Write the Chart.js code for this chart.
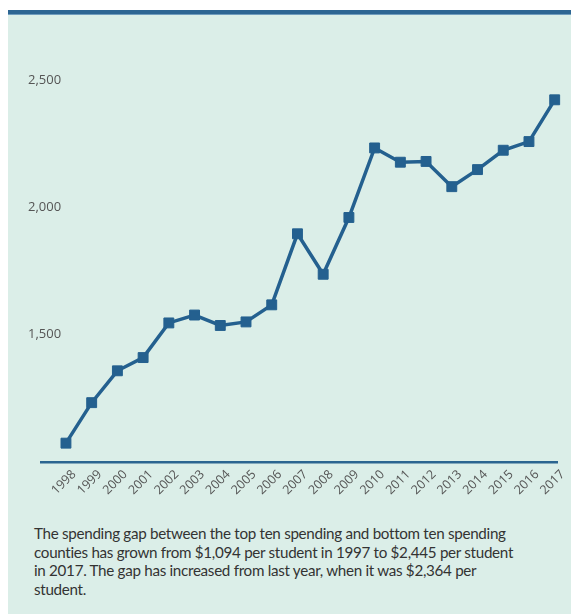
<!DOCTYPE html>
<html lang="en">
<head>
  <meta charset="UTF-8">
  <title>Spending gap per student</title>
  <script src="https://cdn.jsdelivr.net/npm/chart.js"></script>
  <style>
    html, body {
      margin: 0;
      padding: 0;
      width: 571px;
      height: 614px;
      background: #ffffff;
      overflow: hidden;
    }
    .panel {
      position: absolute;
      left: 8px;
      top: 10px;
      right: 0;
      bottom: 0;
      background: #dbeee8;
      border-top: 4px solid #2d6693;
      box-shadow: inset 0 1px 0 #6f9cbd;
    }
    #gapChart {
      position: absolute;
      left: 0;
      top: 0;
    }
    .caption {
      position: absolute;
      left: 34px;
      top: 524px;
      font-family: 'Lato', sans-serif;
      font-size: 15.2px;
      letter-spacing: -0.3px;
      line-height: 18.5px;
      color: #333;
      white-space: nowrap;
    }
  </style>
</head>
<body>
  <div class="panel"></div>
  <canvas id="gapChart" width="571" height="510"></canvas>
  <div class="caption">
    The spending gap between the top ten spending and bottom ten spending<br>
    counties has grown from $1,094 per student in 1997 to $2,445 per student<br>
    in 2017. The gap has increased from last year, when it was $2,364 per<br>
    student.
  </div>

  <script>
    const years = [1998, 1999, 2000, 2001, 2002, 2003, 2004, 2005, 2006, 2007,
                   2008, 2009, 2010, 2011, 2012, 2013, 2014, 2015, 2016, 2017];
    const gapValues = [1074, 1233, 1358, 1410, 1546, 1577, 1536, 1550, 1617, 1896,
                       1737, 1960, 2233, 2177, 2180, 2081, 2148, 2224, 2258, 2422];
    const yTickValues = [1500, 2000, 2500];

    const lineBlue = '#24608f';

    const ctx = document.getElementById('gapChart').getContext('2d');
    new Chart(ctx, {
      type: 'line',
      data: {
        datasets: [{
          data: years.map((y, i) => ({ x: y, y: gapValues[i] })),
          borderColor: lineBlue,
          backgroundColor: lineBlue,
          borderWidth: 3.5,
          pointStyle: 'rect',
          pointRadius: 7,
          pointBorderWidth: 1,
          pointBorderColor: lineBlue,
          tension: 0,
          clip: false
        }]
      },
      options: {
        responsive: false,
        devicePixelRatio: 1,
        animation: false,
        layout: {
          padding: { left: 0, right: 14, top: 29, bottom: 0 }
        },
        plugins: {
          legend: { display: false },
          tooltip: { enabled: false }
        },
        scales: {
          x: {
            type: 'linear',
            min: 1997.03,
            max: 2017.09,
            grid: { display: false, drawTicks: false },
            border: { display: true, color: '#2b6590', width: 2.5 },
            afterBuildTicks: (scale) => {
              scale.ticks = years.map(v => ({ value: v }));
            },
            afterFit: (scale) => { scale.height = 48; },
            ticks: {
              autoSkip: false,
              minRotation: 45,
              maxRotation: 45,
              padding: 5,
              labelOffset: 8,
              color: '#555',
              font: { family: "'Open Sans', sans-serif", size: 12.5 },
              callback: (v) => String(Math.round(v))
            }
          },
          y: {
            min: 1000,
            max: 2700,
            grid: { display: false, drawTicks: false },
            border: { display: false },
            afterBuildTicks: (scale) => {
              scale.ticks = yTickValues.map(v => ({ value: v }));
            },
            afterFit: (scale) => { scale.width = 41; },
            ticks: {
              mirror: true,
              crossAlign: 'far',
              padding: -13,
              color: '#555',
              font: { family: "'Open Sans', sans-serif", size: 13 },
              callback: (v) => v.toLocaleString('en-US')
            }
          }
        }
      }
    });
  </script>
</body>
</html>
